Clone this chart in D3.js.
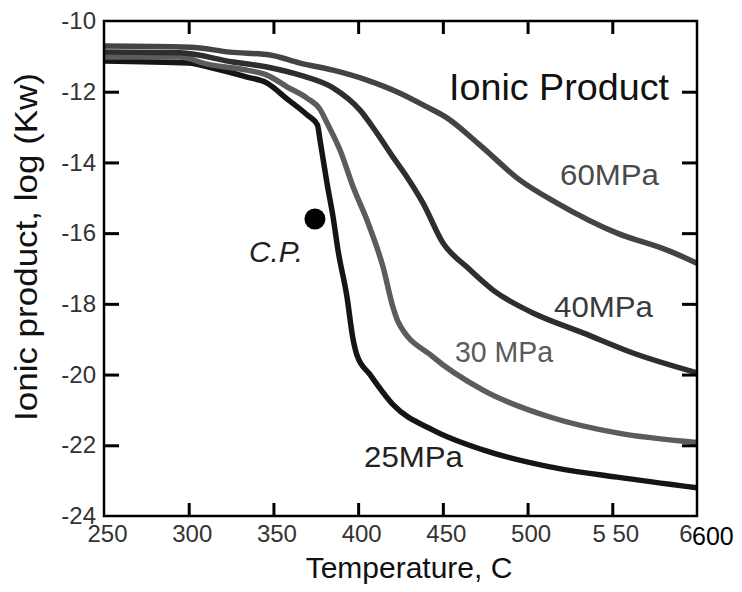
<!DOCTYPE html>
<html><head><meta charset="utf-8">
<script src="https://cdn.jsdelivr.net/npm/d3@7"></script>
<style>body{margin:0;background:#fff}svg{display:block}</style>
</head><body>
<svg id="chart" width="742" height="592"></svg>
<script>
// ---- data ----
const temps25 = [250, 300, 314, 334, 346, 358, 370, 376, 377.5, 381.6, 385.2, 388.1, 393.4, 397, 399.3, 407, 420.6, 444.2, 473.7, 513.2, 552.8, 600];
const logKw25 = [-11.13, -11.19, -11.33, -11.58, -11.75, -12.2, -12.66, -12.94, -13.37, -14.58, -15.54, -16.48, -17.8, -19.0, -19.45, -20.0, -20.85, -21.57, -22.13, -22.61, -22.9, -23.2];
const temps30 = [250, 294.9, 310.8, 334.4, 346.2, 358, 369.8, 377.5, 381.6, 389.3, 397, 405.2, 414.7, 420.6, 423.5, 444.2, 473.7, 513.2, 552.8, 600];
const logKw30 = [-11.02, -11.02, -11.22, -11.39, -11.53, -11.86, -12.18, -12.5, -12.88, -13.65, -14.69, -15.63, -16.96, -18.1, -18.5, -19.5, -20.44, -21.2, -21.65, -21.92];
const temps40 = [250, 294.9, 326.1, 346.2, 365.7, 385.2, 401.1, 411.1, 420.6, 428.8, 438.3, 450.1, 464.2, 479.6, 503.2, 532.7, 562.2, 600];
const logKw40 = [-10.88, -10.9, -11.16, -11.3, -11.53, -11.89, -12.52, -13.17, -13.85, -14.41, -15.15, -16.28, -16.96, -17.61, -18.26, -18.82, -19.39, -19.95];
const temps60 = [250, 300.8, 324.4, 348, 365.7, 385.2, 405.2, 424.7, 440.6, 452.4, 471.9, 495.5, 517.4, 552.8, 582.3, 600];
const logKw60 = [-10.71, -10.74, -10.88, -10.96, -11.19, -11.39, -11.67, -12.04, -12.43, -12.74, -13.51, -14.5, -15.15, -16.0, -16.48, -16.85];
const seriesNames = ["25MPa", "30 MPa", "40MPa", "60MPa"];
const critPoint = {T: 374.5, logKw: -15.6, label: "C.P."};
const xTickValues = [250, 300, 350, 400, 450, 500, 550, 600];
const xTickLabels = ["250", "300", "350", "400", "450", "500", "5 50", "6"];
const xExtraLabel = "600";
const yTickValues = [-10, -12, -14, -16, -18, -20, -22, -24];
const yTickLabels = ["-10", "-12", "-14", "-16", "-18", "-20", "-22", "-24"];
const titleText = "Ionic Product";
const xTitle = "Temperature, C";
const yTitle = "Ionic product, log (Kw)";

// ---- layout ----
const L = 104, R = 697, T = 21, B = 516;
const svg = d3.select("#chart");
const x = d3.scaleLinear().domain([250, 600]).range([L, R]);
const y = d3.scaleLinear().domain([-10, -24]).range([T, B]);

const series = [
  {name: seriesNames[0], t: temps25, v: logKw25, color: "#151515", lx: 364, ly: 467, lw: 99, lc: "#222"},
  {name: seriesNames[1], t: temps30, v: logKw30, color: "#5c5c5c", lx: 455, ly: 362, lw: 98, lc: "#5a5a5a"},
  {name: seriesNames[2], t: temps40, v: logKw40, color: "#2e2e2e", lx: 554, ly: 317, lw: 99, lc: "#3a3a3a"},
  {name: seriesNames[3], t: temps60, v: logKw60, color: "#444444", lx: 560, ly: 185, lw: 99, lc: "#4a4a4a"}
];

const line = d3.line().x(d => x(d[0])).y(d => y(d[1])).curve(d3.curveMonotoneX);
svg.append("clipPath").attr("id", "clip").append("rect")
  .attr("x", L - 4).attr("y", T).attr("width", R - L + 4).attr("height", B - T);

series.forEach(s => {
  svg.append("path")
    .attr("d", line(s.t.map((t, i) => [t, s.v[i]])))
    .attr("fill", "none").attr("stroke", s.color).attr("stroke-width", 5.5)
    .attr("clip-path", "url(#clip)");
});

// axes
const font = "'Liberation Sans', Arial, sans-serif";
const gL = svg.append("g").attr("transform", `translate(${L},0)`)
  .call(d3.axisLeft(y).tickValues(yTickValues).tickSize(-15).tickPadding(8)
    .tickFormat((d, i) => yTickLabels[i]));
const gR = svg.append("g").attr("transform", `translate(${R},0)`)
  .call(d3.axisRight(y).tickValues(yTickValues.slice(1, -1)).tickSize(-15).tickFormat(""));
const gT = svg.append("g").attr("transform", `translate(0,${T})`)
  .call(d3.axisTop(x).tickValues(xTickValues.slice(1, -1)).tickSize(-13).tickFormat(""));
const gB = svg.append("g").attr("transform", `translate(0,${B})`)
  .call(d3.axisBottom(x).tickValues(xTickValues).tickSize(-13).tickPadding(9)
    .tickFormat((d, i) => xTickLabels[i]));
[gL, gR, gT, gB].forEach(g => {
  g.select(".domain").remove();
  g.selectAll(".tick line").attr("stroke", "#000").attr("stroke-width", 3);
  g.selectAll("text").attr("font-family", font).attr("font-size", 24).attr("fill", "#333");
});
gB.selectAll(".tick").filter(d => d === 250 || d === 600).select("line").remove();
gL.selectAll(".tick").filter(d => d === -10 || d === -24).select("line").remove();
gB.selectAll(".tick text").attr("dx", 3);
gB.selectAll(".tick").filter(d => d === 600).select("text")
  .attr("text-anchor", "end").attr("dx", -5);
svg.append("text").attr("x", 692).attr("y", 545).text(xExtraLabel)
  .attr("font-family", font).attr("font-size", 25).attr("fill", "#000");

// frame
svg.append("rect").attr("x", L).attr("y", T).attr("width", R - L).attr("height", B - T)
  .attr("fill", "none").attr("stroke", "#000").attr("stroke-width", 2.5);

// critical point
svg.append("circle").attr("cx", x(critPoint.T)).attr("cy", y(critPoint.logKw)).attr("r", 10.5).attr("fill", "#000");
svg.append("text").attr("x", 249).attr("y", 262).text(critPoint.label)
  .attr("font-family", font).attr("font-size", 29).attr("font-style", "italic").attr("fill", "#222")
  .attr("textLength", 54).attr("lengthAdjust", "spacingAndGlyphs");

// series labels
series.forEach(s => {
  svg.append("text").attr("x", s.lx).attr("y", s.ly).text(s.name)
    .attr("font-family", font).attr("font-size", 30).attr("fill", s.lc)
    .attr("textLength", s.lw).attr("lengthAdjust", "spacingAndGlyphs");
});

// titles
svg.append("text").attr("x", 449).attr("y", 100).text(titleText)
  .attr("font-family", font).attr("font-size", 36).attr("fill", "#111")
  .attr("textLength", 220).attr("lengthAdjust", "spacingAndGlyphs");
svg.append("text").attr("x", 409).attr("y", 578).attr("text-anchor", "middle").text(xTitle)
  .attr("font-family", font).attr("font-size", 30).attr("fill", "#111");
svg.append("text").attr("transform", "translate(37,247) rotate(-90)").attr("text-anchor", "middle").text(yTitle)
  .attr("font-family", font).attr("font-size", 32).attr("fill", "#111")
  .attr("textLength", 348).attr("lengthAdjust", "spacingAndGlyphs");
</script>
</body></html>
